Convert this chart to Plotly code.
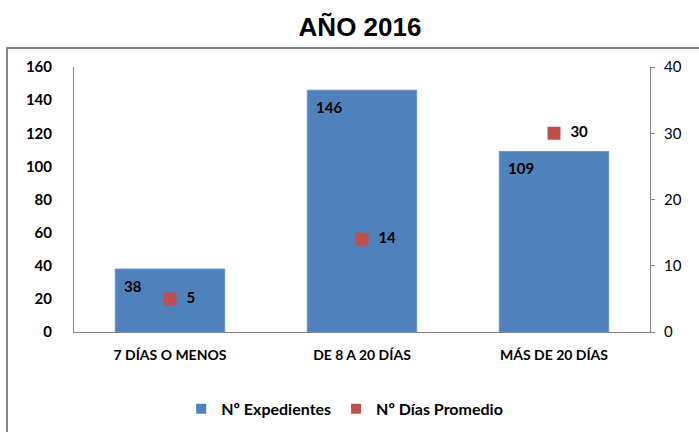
import plotly.graph_objects as go

categories = ["7 DÍAS O MENOS", "DE 8 A 20 DÍAS", "MÁS DE 20 DÍAS"]
expedientes = [38, 146, 109]
dias_promedio = [5, 14, 30]
left_ticks = [0, 20, 40, 60, 80, 100, 120, 140, 160]
right_ticks = [0, 10, 20, 30, 40]

FONT = "Lato"
BLUE = "#4F81BD"
RED = "#C0504D"
fig = go.Figure()
fig.add_trace(go.Bar(
    x=categories, y=expedientes, name="Nº Expedientes", showlegend=False,
    marker=dict(color=BLUE, line=dict(color="#6A95CC", width=1)),
    width=0.57, yaxis="y",
))
fig.add_trace(go.Scatter(
    x=categories, y=dias_promedio, name="Nº Días Promedio", showlegend=False,
    mode="markers+text", yaxis="y2",
    marker=dict(color=RED, symbol="square", size=13),
    text=["  " + str(v) for v in dias_promedio], textposition="middle right",
    textfont=dict(family=FONT, size=15, color="#000000", weight="bold"),
))
# legend entries with small square swatches
fig.add_trace(go.Scatter(x=[None], y=[None], mode="markers", name="Nº Expedientes",
                         marker=dict(color=BLUE, symbol="square", size=10)))
fig.add_trace(go.Scatter(x=[None], y=[None], mode="markers", name="Nº Días Promedio",
                         marker=dict(color=RED, symbol="square", size=10)))
for c, v in zip(categories, expedientes):
    fig.add_annotation(x=c, y=v, yref="y", text=str(v), showarrow=False,
                       xanchor="left", xshift=-48, yshift=-17,
                       font=dict(family=FONT, size=15, color="#000000", weight="bold"))

fig.add_shape(type="rect", xref="paper", yref="paper",
              x0=-0.1163, x1=1.3, y0=-0.6, y1=1.0717,
              line=dict(color="#868686", width=2), fillcolor="rgba(0,0,0,0)", layer="below")

fig.update_layout(
    width=699, height=432,
    margin=dict(l=74, r=49, t=67, b=100, autoexpand=False),
    paper_bgcolor="white", plot_bgcolor="white",
    title=dict(text="<b>AÑO 2016</b>", x=360 / 699, xanchor="center", y=1 - 27 / 432,
               yanchor="middle", xref="container", yref="container",
               font=dict(family="Liberation Sans", size=26, color="#000000")),
    showlegend=True,
    legend=dict(orientation="h", x=0.47, xanchor="center", y=-0.29, yanchor="middle",
                font=dict(family=FONT, size=16, color="#000000", weight="bold"),
                itemwidth=30, traceorder="normal", tracegroupgap=0),
    xaxis=dict(showline=True, linecolor="#868686", linewidth=1, showgrid=False,
               ticks="", automargin=False,
               tickfont=dict(family=FONT, size=14, color="#000000", weight="bold"),
               ticklabelstandoff=10),
    yaxis=dict(range=[0, 160], tickvals=left_ticks, showline=True, linecolor="#868686",
               linewidth=1, showgrid=False, zeroline=False, ticks="", automargin=False,
               tickfont=dict(family=FONT, size=15, color="#000000", weight="bold"),
               ticklabelstandoff=18),
    yaxis2=dict(range=[0, 40], tickvals=right_ticks, overlaying="y", side="right",
                showline=True, linecolor="#868686", linewidth=1, showgrid=False,
                zeroline=False, ticks="outside", ticklen=4, tickcolor="#868686",
                automargin=False,
                tickfont=dict(family=FONT, size=15, color="#000000"),
                ticklabelstandoff=6),
)
fig.write_html("out.html", config={"displayModeBar": False},
               post_script="document.body.style.margin='0';")
